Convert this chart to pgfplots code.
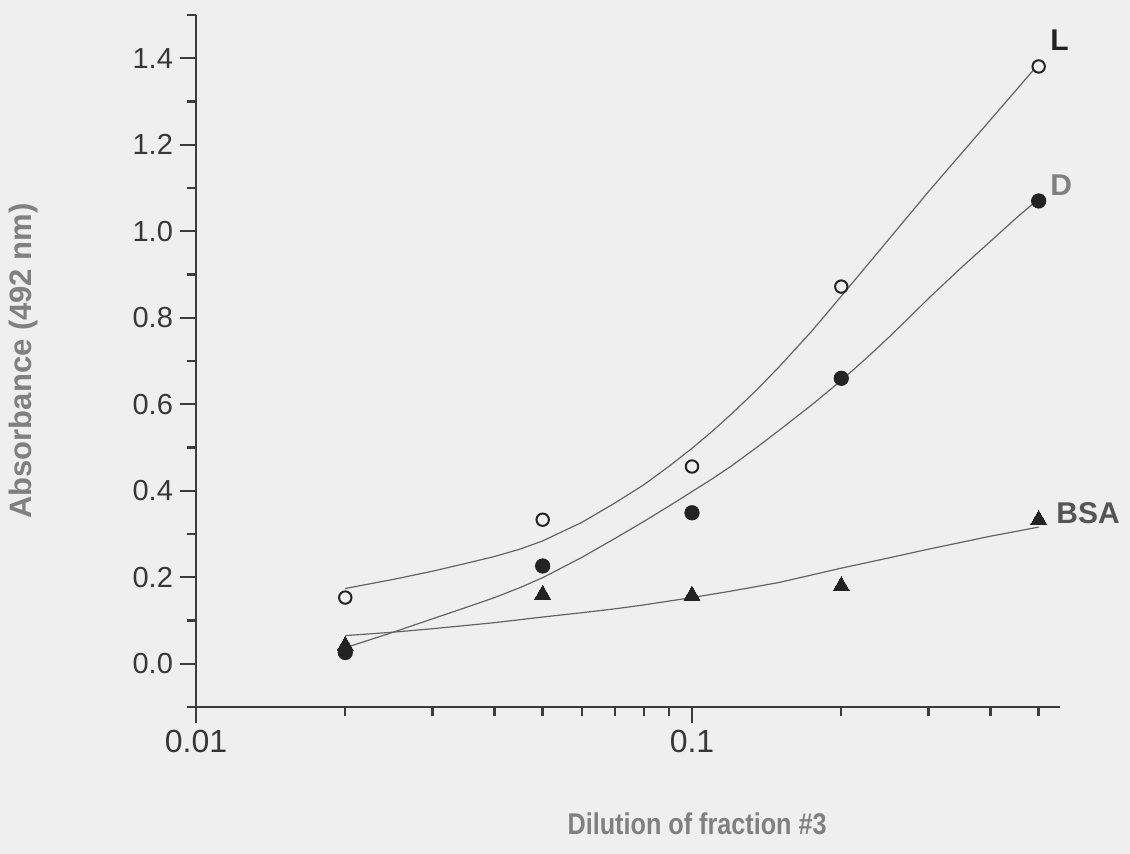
\documentclass[border=0pt]{standalone}
\usepackage{graphicx}
\usepackage{pgfplots}
\pgfplotsset{compat=1.18}
\usepackage{fontspec}
\setmainfont{Liberation Sans}
\definecolor{bg}{RGB}{239,239,239}
\definecolor{axc}{RGB}{60,60,60}
\definecolor{tickc}{RGB}{55,55,55}
\definecolor{titc}{RGB}{128,128,128}
\definecolor{fitc}{RGB}{100,100,100}
\definecolor{markc}{RGB}{35,35,35}
\begin{document}
\begin{tikzpicture}
\fill[bg] (0,0) rectangle (565pt,427pt);
\begin{axis}[
  at={(98pt,73.5pt)}, anchor=south west,
  scale only axis, width=432pt, height=346pt,
  xmode=log, xmin=0.01, xmax=0.552, ymin=-0.1, ymax=1.5,
  axis lines*=left,
  axis line style={color=axc, line width=1.4pt},
  tick align=outside,
  tick style={color=axc, line width=1.2pt},
  major tick length=8pt, minor tick length=4.5pt,
  xtick={0.01,0.1}, xticklabels={0.01,0.1},
  minor xtick={0.02,0.03,0.04,0.05,0.06,0.07,0.08,0.09,0.2,0.3,0.4,0.5},
  ytick={0,0.2,0.4,0.6,0.8,1.0,1.2,1.4},
  yticklabels={0.0,0.2,0.4,0.6,0.8,1.0,1.2,1.4},
  minor ytick={-0.1,0.1,0.3,0.5,0.7,0.9,1.1,1.3,1.5},
  xticklabel style={font=\fontsize{16}{18}\selectfont, color=tickc},
  yticklabel style={font=\fontsize{14.5}{17}\selectfont, color=tickc},
  xlabel={\scalebox{0.84}[1]{Dilution of fraction \#3}},
  ylabel={Absorbance (492 nm)},
  xlabel style={font=\fontsize{15}{18}\selectfont\bfseries, color=titc, at={(axis description cs:0.58,-0.169)}, anchor=center},
  ylabel style={font=\fontsize{15.5}{18}\selectfont\bfseries, color=titc, at={(axis description cs:-0.200,0.5)}, anchor=center},
  clip=false,
]
% fitted curves
\addplot[fitc, line width=0.6pt] coordinates {
(0.02,0.174) (0.025,0.195) (0.03,0.214) (0.035,0.232) (0.04,0.248) (0.045,0.265) (0.05,0.284) (0.06,0.327) (0.07,0.372) (0.08,0.414) (0.09,0.457) (0.1,0.498) (0.11,0.538) (0.12,0.577) (0.135,0.633) (0.15,0.687) (0.175,0.771) (0.2,0.850) (0.225,0.920) (0.25,0.983) (0.275,1.040) (0.3,1.092) (0.35,1.181) (0.4,1.258) (0.45,1.326) (0.5,1.387)};
\addplot[fitc, line width=0.6pt] coordinates {
(0.02,0.037) (0.025,0.073) (0.03,0.104) (0.035,0.13) (0.04,0.153) (0.045,0.176) (0.05,0.199) (0.06,0.246) (0.07,0.29) (0.08,0.329) (0.09,0.365) (0.1,0.398) (0.11,0.428) (0.12,0.457) (0.135,0.5) (0.15,0.54) (0.175,0.6) (0.2,0.655) (0.225,0.707) (0.25,0.756) (0.275,0.802) (0.3,0.845) (0.35,0.917) (0.4,0.977) (0.45,1.03) (0.5,1.075)};
\addplot[fitc, line width=0.6pt] coordinates {
(0.02,0.065) (0.025,0.073) (0.03,0.081) (0.04,0.095) (0.05,0.108) (0.06,0.118) (0.07,0.127) (0.08,0.136) (0.1,0.153) (0.12,0.168) (0.15,0.188) (0.2,0.221) (0.25,0.245) (0.3,0.265) (0.35,0.281) (0.4,0.295) (0.45,0.306) (0.5,0.316)};
% data points
\addplot[only marks, mark=*, mark size=3.1pt, mark options={draw=markc, fill=bg, line width=1pt}] coordinates {
(0.02,0.153) (0.05,0.333) (0.1,0.456) (0.2,0.872) (0.5,1.381)};
\addplot[only marks, mark=triangle*, mark size=4.6pt, mark options={draw=markc, fill=markc, line width=0pt}] coordinates {
(0.02,0.042) (0.05,0.16) (0.1,0.158) (0.2,0.18) (0.5,0.333)};
\addplot[only marks, mark=*, mark size=3.6pt, mark options={draw=markc, fill=markc}] coordinates {
(0.02,0.026) (0.05,0.226) (0.1,0.349) (0.2,0.66) (0.5,1.07)};
% series labels
\node[anchor=west, inner sep=0pt, font=\fontsize{15}{18}\selectfont\bfseries, text=markc] at (axis cs:0.527,1.442) {L};
\node[anchor=west, inner sep=0pt, font=\fontsize{15}{18}\selectfont\bfseries, text=titc] at (axis cs:0.527,1.107) {D};
\node[anchor=west, inner sep=0pt, font=\fontsize{15}{18}\selectfont\bfseries, text={rgb,255:red,85;green,85;blue,85}] at (axis cs:0.542,0.349) {BSA};
\end{axis}
\end{tikzpicture}
\end{document}
